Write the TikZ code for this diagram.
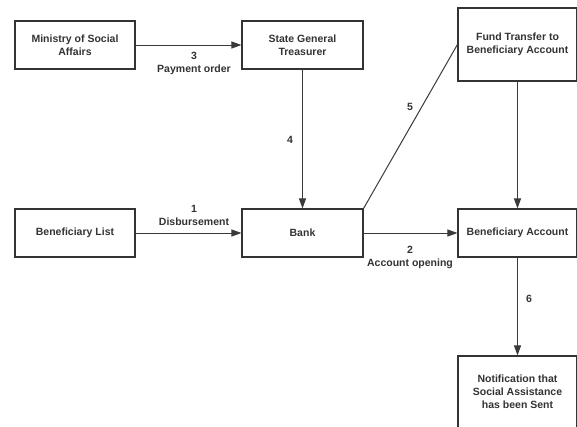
\documentclass[tikz,border=0pt]{standalone}
\usepackage{fontspec}
\setmainfont{Liberation Sans}
\usetikzlibrary{arrows.meta}
\definecolor{ink}{HTML}{333333}
\definecolor{edge}{HTML}{3A3A3A}
\tikzset{
  box/.style={draw=ink, line width=1.1pt, fill=white, text=ink, font=\bfseries\fontsize{10.5}{13}\selectfont, align=center, inner sep=0pt, minimum width=120pt},
  conn/.style={draw=edge, line width=1pt, -{Triangle[length=10pt,width=7pt]}},
  plain/.style={draw=edge, line width=1pt},
  lbl/.style={text=ink, font=\bfseries\fontsize{10.5}{13}\selectfont, align=center, inner sep=0pt}
}
\begin{document}
\begin{tikzpicture}[x=1pt,y=-1pt]
\useasboundingbox (0,0) rectangle (577,426);
\fill[white] (0,0) rectangle (577,426);
\node[box, minimum height=48pt] (min) at (75,45) {Ministry of Social\\Affairs};
\node[box, minimum width=121pt, minimum height=48pt] (sgt) at (302.5,45) {State General\\Treasurer};
\node[box, minimum height=73pt, minimum width=119pt] (fund) at (517.5,44.5) {Fund Transfer to\\Beneficiary Account};
\node[box, minimum height=48pt] (bl) at (75,233) {Beneficiary List};
\node[box, minimum width=121pt, minimum height=48pt] (bank) at (302.5,233) {Bank};
\node[box, minimum height=48pt, minimum width=119pt] (ba) at (517.5,233) {Beneficiary Account};
\node[box, minimum height=72pt, minimum width=119pt] (note) at (517.5,392) {Notification that\\Social Assistance\\has been Sent};

\draw[conn] (min) -- (sgt);
\node[lbl] (l3) at (194,63.5) {3\\Payment order};
\draw[conn] (sgt) -- (bank);
\node[lbl] (l4) at (290,140) {4};
\draw[plain] (bank.north east) -- (fund.west);
\node[lbl] (l5) at (410,107) {5};
\draw[conn] (fund) -- (ba);
\draw[conn] (bl) -- (bank);
\node[lbl] (l1) at (194,215.5) {1\\Disbursement};
\draw[conn] (bank) -- (ba);
\node[lbl] (l2) at (410,257.5) {2\\Account opening};
\draw[conn] (ba) -- (note);
\node[lbl] (l6) at (529,299) {6};
\end{tikzpicture}
\end{document}
